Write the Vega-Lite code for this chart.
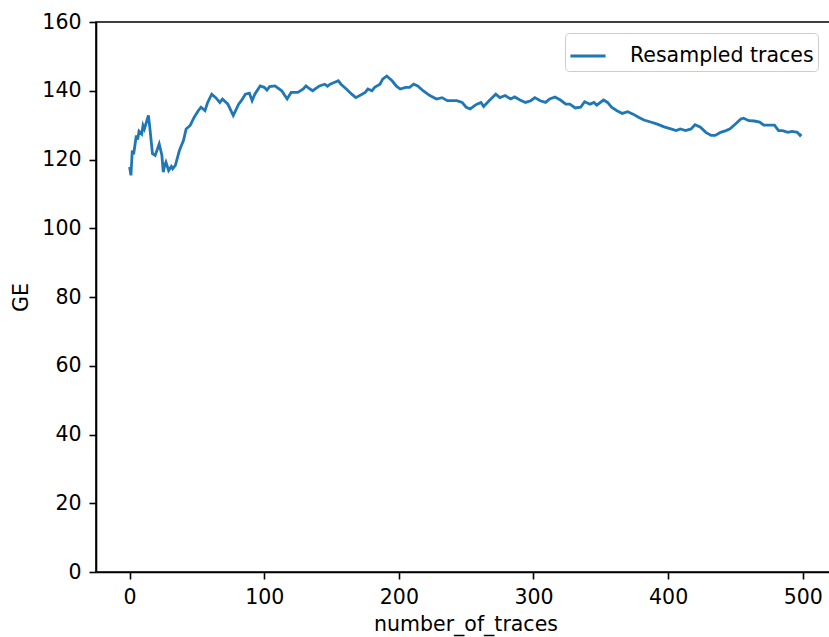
{
  "$schema": "https://vega.github.io/schema/vega-lite/v6.json",
  "autosize": "none",
  "width": 739,
  "height": 550,
  "padding": {"left": 96, "top": 22, "right": 0, "bottom": 65},
  "background": "white",
  "config": {
    "font": "DejaVu Sans",
    "view": {"stroke": "black", "strokeWidth": 1.6},
    "axis": {
      "grid": false,
      "domainColor": "black",
      "domainWidth": 1.6,
      "tickColor": "black",
      "tickWidth": 1.6,
      "tickSize": 7,
      "labelColor": "black",
      "labelFont": "DejaVu Sans",
      "labelFontSize": 20.5,
      "titleFont": "DejaVu Sans",
      "titleFontSize": 20.5,
      "titleFontWeight": "normal",
      "titleColor": "black",
      "labelPadding": 8
    }
  },
  "data": {
    "values": [
      {"n": 0, "ge": 117.8}, {"n": 1, "ge": 115.4}, {"n": 2, "ge": 122.6}, {"n": 3, "ge": 121.5}, {"n": 5, "ge": 127}, {"n": 6, "ge": 125.8}, {"n": 7, "ge": 128.2},
      {"n": 9, "ge": 127.4}, {"n": 10, "ge": 129.9}, {"n": 11, "ge": 128.9}, {"n": 14, "ge": 132.8}, {"n": 15, "ge": 129.4}, {"n": 17, "ge": 121.7},
      {"n": 19, "ge": 121.2}, {"n": 22, "ge": 124.5}, {"n": 24, "ge": 121.2}, {"n": 25, "ge": 116.3}, {"n": 26, "ge": 118.2}, {"n": 27, "ge": 119.2},
      {"n": 29, "ge": 116.8}, {"n": 31, "ge": 118}, {"n": 32, "ge": 117.3}, {"n": 34, "ge": 118.3}, {"n": 37, "ge": 122.6}, {"n": 40, "ge": 125.5},
      {"n": 42, "ge": 128.9}, {"n": 45, "ge": 129.9}, {"n": 48, "ge": 132.3}, {"n": 51, "ge": 134.2}, {"n": 53, "ge": 135.2},
      {"n": 56, "ge": 134.2}, {"n": 58, "ge": 136.6}, {"n": 61, "ge": 139}, {"n": 64, "ge": 138}, {"n": 67, "ge": 136.6},
      {"n": 69, "ge": 137.6}, {"n": 73, "ge": 136.1}, {"n": 77, "ge": 132.8}, {"n": 81, "ge": 136.1}, {"n": 83, "ge": 137.1},
      {"n": 86, "ge": 139}, {"n": 89, "ge": 139.3}, {"n": 91, "ge": 137.1}, {"n": 93, "ge": 139}, {"n": 97, "ge": 141.4},
      {"n": 100, "ge": 141}, {"n": 102, "ge": 140.2}, {"n": 104, "ge": 141.2}, {"n": 108, "ge": 141.4}, {"n": 113, "ge": 140}, {"n": 117, "ge": 137.6},
      {"n": 120, "ge": 139.5}, {"n": 125, "ge": 139.5}, {"n": 129, "ge": 140.5}, {"n": 131, "ge": 141.4}, {"n": 134, "ge": 140.5},
      {"n": 136, "ge": 140}, {"n": 141, "ge": 141.4}, {"n": 145, "ge": 141.9}, {"n": 147, "ge": 141.3}, {"n": 149, "ge": 141.9}, {"n": 152, "ge": 142.4},
      {"n": 155, "ge": 142.9}, {"n": 157, "ge": 141.9}, {"n": 161, "ge": 140.5}, {"n": 165, "ge": 139}, {"n": 168, "ge": 138},
      {"n": 171, "ge": 138.6}, {"n": 175, "ge": 139.5}, {"n": 177, "ge": 140.5}, {"n": 180, "ge": 140}, {"n": 182, "ge": 141},
      {"n": 186, "ge": 141.9}, {"n": 188, "ge": 143.4}, {"n": 191, "ge": 144.3}, {"n": 195, "ge": 142.9}, {"n": 198, "ge": 141.4},
      {"n": 201, "ge": 140.5}, {"n": 205, "ge": 141}, {"n": 208, "ge": 141}, {"n": 211, "ge": 141.9}, {"n": 214, "ge": 141.4},
      {"n": 218, "ge": 140}, {"n": 223, "ge": 138.6}, {"n": 228, "ge": 137.6}, {"n": 232, "ge": 138}, {"n": 236, "ge": 137.1},
      {"n": 239, "ge": 137.1}, {"n": 243, "ge": 137.1}, {"n": 247, "ge": 136.6}, {"n": 250, "ge": 135.2}, {"n": 253, "ge": 134.7},
      {"n": 256, "ge": 135.6}, {"n": 258, "ge": 136.1}, {"n": 261, "ge": 136.6}, {"n": 263, "ge": 135.4}, {"n": 267, "ge": 137.1},
      {"n": 272, "ge": 139}, {"n": 275, "ge": 138}, {"n": 279, "ge": 138.6}, {"n": 283, "ge": 137.6}, {"n": 286, "ge": 138.2},
      {"n": 290, "ge": 137.3}, {"n": 294, "ge": 136.6}, {"n": 298, "ge": 137.1}, {"n": 301, "ge": 138}, {"n": 305, "ge": 137.1},
      {"n": 309, "ge": 136.6}, {"n": 312, "ge": 137.6}, {"n": 316, "ge": 138.2}, {"n": 320, "ge": 137.3}, {"n": 324, "ge": 136.1},
      {"n": 327, "ge": 136.1}, {"n": 331, "ge": 135}, {"n": 335, "ge": 135.2}, {"n": 338, "ge": 136.8}, {"n": 342, "ge": 136.1},
      {"n": 345, "ge": 136.6}, {"n": 347, "ge": 135.8}, {"n": 352, "ge": 137.3}, {"n": 355, "ge": 136.6}, {"n": 358, "ge": 135.2},
      {"n": 362, "ge": 134.2}, {"n": 366, "ge": 133.4}, {"n": 370, "ge": 133.9}, {"n": 374, "ge": 133.2}, {"n": 378, "ge": 132.3},
      {"n": 382, "ge": 131.5}, {"n": 387, "ge": 130.9}, {"n": 392, "ge": 130.3}, {"n": 397, "ge": 129.5}, {"n": 402, "ge": 128.9},
      {"n": 406, "ge": 128.4}, {"n": 409, "ge": 128.9}, {"n": 413, "ge": 128.4}, {"n": 417, "ge": 128.9}, {"n": 420, "ge": 130.1},
      {"n": 424, "ge": 129.4}, {"n": 428, "ge": 127.9}, {"n": 432, "ge": 127}, {"n": 435, "ge": 127}, {"n": 439, "ge": 127.9},
      {"n": 443, "ge": 128.4}, {"n": 446, "ge": 128.9}, {"n": 450, "ge": 130.3}, {"n": 454, "ge": 131.8}, {"n": 456, "ge": 132},
      {"n": 460, "ge": 131.3}, {"n": 464, "ge": 131.2}, {"n": 468, "ge": 130.9}, {"n": 471, "ge": 130}, {"n": 475, "ge": 130},
      {"n": 479, "ge": 130}, {"n": 482, "ge": 128.4}, {"n": 485, "ge": 128.4}, {"n": 489, "ge": 127.9}, {"n": 492, "ge": 128.2},
      {"n": 496, "ge": 127.9}, {"n": 498, "ge": 127}, {"n": 499, "ge": 127.4}
    ]
  },
  "mark": {"type": "line", "strokeWidth": 2.8, "interpolate": "linear"},
  "encoding": {
    "x": {
      "field": "n",
      "type": "quantitative",
      "scale": {"domain": [-24.95, 523.95], "nice": false, "zero": false},
      "axis": {"values": [0, 100, 200, 300, 400, 500], "title": "number_of_traces", "titlePadding": 7}
    },
    "y": {
      "field": "ge",
      "type": "quantitative",
      "scale": {"domain": [0, 160], "nice": false},
      "axis": {"values": [0, 20, 40, 60, 80, 100, 120, 140, 160], "title": "GE", "titlePadding": 10}
    },
    "color": {
      "datum": "Resampled traces",
      "type": "nominal",
      "scale": {"range": ["#1f77b4"]},
      "legend": {
        "title": null,
        "orient": "none",
        "legendX": 469,
        "legendY": 11,
        "symbolType": "stroke",
        "symbolSize": 1239,
        "symbolStrokeWidth": 2.8,
        "labelFontSize": 20.5,
        "labelFont": "DejaVu Sans",
        "labelColor": "black",
        "labelOffset": 23,
        "labelLimit": 400,
        "padding": 4,
        "strokeColor": "#cccccc",
        "fillColor": "white",
        "cornerRadius": 4
      }
    }
  }
}
